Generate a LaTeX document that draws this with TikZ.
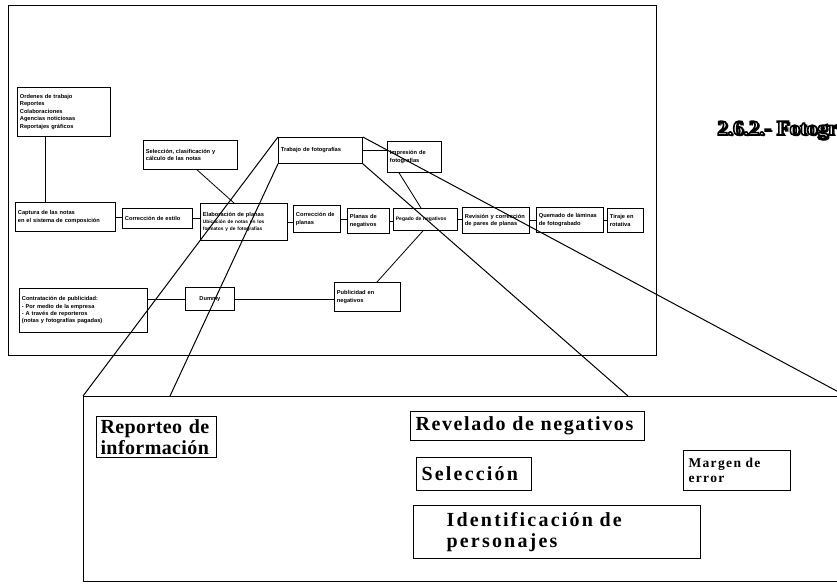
\documentclass[tikz,border=0pt]{standalone}
\usepackage{fontspec}
\usetikzlibrary{calc}
\setmainfont{Liberation Serif}
\newfontfamily\sfsmall{Liberation Sans}
\newfontfamily\serifbig[LetterSpace=8]{Liberation Serif}
\newfontfamily\serifmid[LetterSpace=10]{Liberation Serif}
\newfontfamily\titleserif{Liberation Serif}
\newcommand{\outlinetext}[1]{\special{pdf:literal direct 2 Tr 1.6 w 1 g 0 G}#1\special{pdf:literal direct 0 Tr}}
\hyphenpenalty=10000
\exhyphenpenalty=10000
\begin{document}
\hyphenpenalty=10000
\begin{tikzpicture}[x=1pt,y=-1pt,
  sb/.style={draw, line width=0.8pt, fill=white, anchor=north west, inner xsep=2.5pt, inner ysep=2pt,
    font=\sfsmall\bfseries\fontsize{5.7}{7.4}\selectfont, align=left},
  bb/.style={draw, line width=1.1pt, fill=white, anchor=north west, inner xsep=5pt, inner ysep=3pt,
    font=\serifbig\bfseries\fontsize{20}{21}\selectfont, align=left},
  conn/.style={line width=0.8pt},
  lens/.style={line width=1pt},
  ttl/.style={font=\titleserif\bfseries\fontsize{21}{23}\selectfont, anchor=base west, inner sep=0pt}
]
\useasboundingbox (0,0) rectangle (837,587);
% upper frame
\draw[line width=1pt] (8,5) rectangle (656,355);
% title (outlined, with shadow)
\node[ttl, text=black] (tshadow) at (718.8,136.8) {2.6.2.- Fotogr};
\node[ttl] (title) at (717,135) {\outlinetext{2.6.2.- Fotogr}};

% upper boxes
\node[sb, text width=88pt, minimum height=49pt] (ord) at (17,87)
  {Ordenes de trabajo\\Reportes\\Colaboraciones\\Agencias noticiosas\\Reportajes gráficos};
\node[sb, text width=89pt, minimum height=29pt] (sel) at (143,140)
  {Selección, clasificación y\\cálculo de las notas};
\node[sb, text width=79pt, minimum height=26pt] (trab) at (278,137) {Trabajo de fotografías};
\node[sb, text width=49pt, minimum height=31pt] (imp) at (387,141) {Impresión de\\fotografías};
\node[sb, text width=95pt, minimum height=29pt] (cap) at (15,202)
  {Captura de las notas\\en el sistema de composición};
\node[sb, text width=65pt, minimum height=20pt] (cor) at (122,208) {Corrección de estilo};
\node[sb, text width=82pt, minimum height=37pt] (ela) at (200,203)
  {Elaboración de planas\\[1pt]\fontsize{4.8}{5.8}\selectfont Ubicación de notas en los\\\fontsize{4.8}{5.8}\selectfont formatos y de fotografías};
\node[sb, text width=42pt, minimum height=27pt] (cpl) at (293,205) {Corrección de\\planas};
\node[sb, text width=37pt, minimum height=25pt] (pneg) at (347,208) {Planas de\\negativos};
\node[sb, text width=59pt, minimum height=22pt, font=\sfsmall\bfseries\fontsize{5}{6}\selectfont] (prep) at (393,208) {Pegado de negativos};
\node[sb, text width=62pt, minimum height=26pt] (rev) at (462,207) {Revisión y corrección\\de pares de planas};
\node[sb, text width=62pt, minimum height=25pt] (que) at (536,207) {Quemado de láminas\\de fotograbado};
\node[sb, text width=31pt, minimum height=24pt] (tir) at (607,208) {Tiraje en\\rotativa};
\node[sb, text width=123pt, minimum height=44pt] (con) at (19,288)
  {Contratación de publicidad:\\- Por medio de la empresa\\- A través de reporteros\\(notas y fotografías pagadas)};
\node[sb, text width=44pt, minimum height=23pt, align=center] (dum) at (185,287) {Dummy};
\node[sb, text width=61pt, minimum height=29pt] (pub) at (334,282) {Publicidad en\\negativos};

% upper connectors
\draw[conn] ([xshift=28pt]ord.south west) -- ([xshift=30pt]cap.north west);
\draw[conn] ([xshift=54pt]sel.south west) -- ([xshift=34pt]ela.north west);
\draw[conn] (trab.east) -- (imp.west |- trab.east);
\draw[conn] ([xshift=12pt]imp.south west) -- ([xshift=28pt]prep.north west);
\draw[conn] ([xshift=30pt]prep.south west) -- ([xshift=43pt]pub.north west);
\draw[conn] (cap.east) -- (cor.west |- cap.east);
\draw[conn] (cor.east) -- (ela.west |- cor.east);
\draw[conn] (ela.east) -- (cpl.west |- ela.east);
\draw[conn] (cpl.east) -- (pneg.west |- cpl.east);
\draw[conn] (pneg.east) -- (prep.west |- pneg.east);
\draw[conn] (prep.east) -- (rev.west |- prep.east);
\draw[conn] (rev.east) -- (que.west |- rev.east);
\draw[conn] (que.east) -- (tir.west |- que.east);
\draw[conn] (con.east |- dum.west) -- (dum.west);
\draw[conn] (dum.east) -- (pub.west |- dum.east);

% bottom detail box
\node[draw, line width=1.1pt, anchor=north west, minimum width=762pt, minimum height=185pt, inner sep=0pt] (big) at (83,396) {};
\node[bb, text width=112pt, minimum height=40pt, inner xsep=4pt] (rep) at (96,416) {\addfontfeature{LetterSpace=2}Reporteo de\\\addfontfeature{LetterSpace=2}información};
\node[bb, text width=224pt, minimum height=29pt] (revl) at (410,411) {\addfontfeature{LetterSpace=8}Revelado de negativos};
\node[bb, text width=105pt, minimum height=33pt] (selc) at (416,457) {\addfontfeature{LetterSpace=11}Selección};
\node[bb, text width=97pt, minimum height=40pt, font=\serifmid\bfseries\fontsize{13.5}{14.5}\selectfont] (marg) at (683,450) {Margen de\\error};
\node[bb, text width=277pt, minimum height=53pt] (ident) at (413,505)
  {\addfontfeature{LetterSpace=11}\hspace*{28pt}Identificación de\\\addfontfeature{LetterSpace=11}\hspace*{28pt}personajes};

% lens lines
\coordinate (b2) at (170,396);
\coordinate (b3) at (628,396);
\draw[lens] (trab.north west) -- (big.north west);
\draw[lens] (trab.south west) -- (b2);
\draw[lens] (trab.south east) -- (b3);
\draw[lens] (trab.north east) -- (big.north east);
\end{tikzpicture}
\end{document}
